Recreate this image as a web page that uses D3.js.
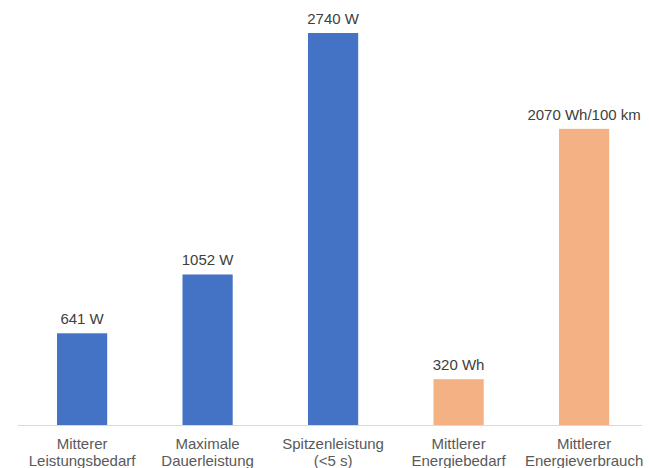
<!DOCTYPE html>
<html>
<head>
<meta charset="utf-8">
<script src="https://cdn.jsdelivr.net/npm/d3@7"></script>
<style>
  html, body { margin: 0; padding: 0; background: #fff; }
  svg { display: block; }
</style>
</head>
<body>
<div id="chart"></div>
<script>
// Data
const categories = [
    ['Mitterer', 'Leistungsbedarf'],
    ['Maximale', 'Dauerleistung'],
    ['Spitzenleistung', '(<5 s)'],
    ['Mittlerer', 'Energiebedarf'],
    ['Mittlerer', 'Energieverbrauch']
];
const values = [641, 1052, 2740, 320, 2070];
const valueLabels = ['641 W', '1052 W', '2740 W', '320 Wh', '2070 Wh/100 km'];
const groups = ['power', 'power', 'power', 'energy', 'energy'];

const width = 649;
const height = 468;
const baseY = 425;

const colors = { power: '#4472C4', energy: '#F4B183' };

const svg = d3.select('#chart')
    .append('svg')
    .attr('width', width)
    .attr('height', height);

const x = d3.scaleBand()
    .domain(d3.range(values.length))
    .range([19.35, 646.85])
    .paddingInner(0.6)
    .paddingOuter(0.3);

const y = d3.scaleLinear()
    .domain([0, 2740])
    .range([baseY, 33]);

// Bars
svg.append('g')
    .selectAll('rect')
    .data(values)
    .join('rect')
    .attr('x', (d, i) => x(i))
    .attr('y', d => y(d))
    .attr('width', x.bandwidth())
    .attr('height', d => y(0) - y(d))
    .attr('fill', (d, i) => colors[groups[i]]);

// Baseline
svg.append('line')
    .attr('x1', 18)
    .attr('x2', 642)
    .attr('y1', baseY + 0.5)
    .attr('y2', baseY + 0.5)
    .attr('stroke', '#d9d9d9')
    .attr('stroke-width', 1);

// Value labels
svg.append('g')
    .selectAll('text')
    .data(values)
    .join('text')
    .attr('x', (d, i) => x(i) + x.bandwidth() / 2)
    .attr('y', d => y(d) - 9)
    .attr('text-anchor', 'middle')
    .attr('font-family', 'Liberation Sans, Arial, sans-serif')
    .attr('font-size', 15)
    .attr('fill', '#404040')
    .text((d, i) => valueLabels[i]);

// Category labels (two lines each)
const cat = svg.append('g')
    .selectAll('text')
    .data(categories)
    .join('text')
    .attr('x', (d, i) => x(i) + x.bandwidth() / 2)
    .attr('y', 449)
    .attr('text-anchor', 'middle')
    .attr('font-family', 'Liberation Sans, Arial, sans-serif')
    .attr('font-size', 15)
    .attr('fill', '#595959');

cat.selectAll('tspan')
    .data(d => d)
    .join('tspan')
    .attr('x', function () { return d3.select(this.parentNode).attr('x'); })
    .attr('dy', (d, i) => i === 0 ? 0 : 17)
    .text(d => d);
</script>
</body>
</html>
